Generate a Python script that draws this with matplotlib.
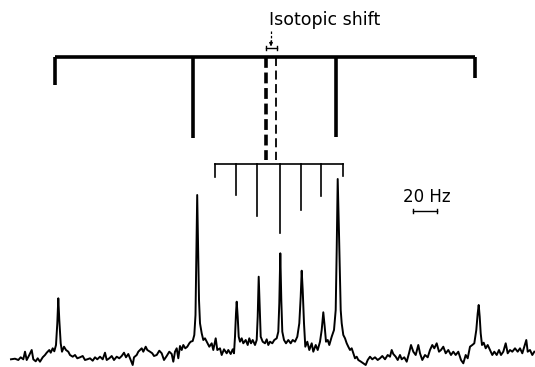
import matplotlib.pyplot as plt

# Spectrum trace (position, intensity above baseline)
trace_x = [11.0, 15.0, 18.3, 20.7, 23.3, 25.0, 26.7, 29.3, 31.7, 33.3, 35.7, 37.7, 40.0, 42.7,
           45.0, 46.7, 49.3, 50.7, 52.7, 54.3, 56.0, 57.3, 58.3, 59.3, 60.7, 62.0, 64.0, 66.0,
           68.3, 70.0, 72.7, 75.0, 77.3, 80.0, 82.7, 85.0, 87.3, 90.0, 92.7, 95.0, 97.3, 100.0,
           102.7, 105.0, 106.7, 109.3, 111.7, 114.0, 116.7, 119.3, 121.7, 124.0, 126.0, 128.3,
           130.7, 132.7, 134.0, 136.7, 138.3, 140.0, 141.7, 143.3, 145.7, 147.3, 150.0, 152.3,
           154.0, 156.7, 159.3, 161.7, 164.0, 166.7, 169.3, 171.7, 173.3, 175.0, 176.7, 178.3,
           180.0, 181.7, 183.3, 185.3, 187.3, 189.3, 190.7, 192.7, 194.3, 195.5, 196.5, 197.2,
           198.0, 199.0, 200.0, 201.7, 203.3, 205.0, 206.7, 209.3, 211.7, 213.3, 215.7, 217.3,
           220.0, 221.7, 224.0, 226.7, 228.3, 230.7, 232.7, 234.0, 235.0, 236.0, 236.7, 237.7,
           238.7, 240.0, 241.7, 243.3, 245.7, 247.7, 249.3, 251.0, 252.7, 255.0, 256.7, 257.7,
           258.7, 259.7, 260.7, 262.7, 265.0, 266.7, 268.3, 270.0, 272.3, 274.3, 276.7, 278.3,
           279.3, 280.3, 281.3, 282.3, 284.0, 286.0, 288.3, 290.7, 292.7, 295.0, 297.3, 299.3,
           300.7, 301.7, 302.7, 304.0, 305.3, 307.3, 309.3, 311.7, 313.3, 315.7, 317.7, 320.0,
           321.7, 323.3, 324.7, 326.0, 327.7, 329.3, 331.7, 334.0, 335.7, 336.7, 337.7, 339.0,
           340.7, 341.7, 343.3, 345.0, 346.7, 348.3, 350.0, 351.7, 353.3, 355.0, 356.7, 358.3,
           361.0, 363.3, 365.7, 367.7, 370.0, 372.3, 375.0, 377.7, 380.0, 382.3, 385.0, 387.7,
           390.0, 391.7, 393.3, 395.7, 397.7, 400.0, 401.7, 404.3, 406.7, 409.0, 411.0, 413.3,
           415.7, 418.3, 420.0, 422.3, 425.0, 427.7, 430.0, 432.3, 434.3, 436.7, 439.0, 441.0,
           443.3, 445.7, 448.3, 451.0, 453.3, 455.7, 458.3, 461.0, 463.3, 465.7, 467.7, 470.0,
           472.3, 474.3, 476.3, 477.7, 478.7, 479.7, 480.7, 482.0, 483.7, 485.7, 487.7, 490.0,
           492.3, 494.3, 496.7, 499.0, 501.0, 503.3, 505.7, 507.7, 510.0, 512.3, 515.0, 517.7,
           520.0, 522.3, 524.3, 526.3, 527.7, 530.0, 532.3, 534.3]
trace_y = [0.7, 1.3, 0.0, 2.7, 0.7, 8.3, 0.0, 5.0, 10.0, 0.7, -1.3, 1.7, -1.7, 2.7,
           5.0, 7.3, 10.0, 7.3, 11.7, 8.7, 15.0, 36.7, 61.7, 40.0, 16.7, 8.3, 13.3, 10.0,
           8.3, 5.0, 3.3, 5.0, 1.7, 2.7, 4.0, 0.0, 0.7, 1.7, -0.7, 2.7, 0.7, 3.3,
           0.7, 7.3, 0.0, 1.7, 4.0, 0.0, 3.3, 1.7, 4.0, 7.3, 2.7, 6.0,
           0.0, -5.0, 2.7, 5.0, 8.3, 10.0, 11.7, 8.3, 13.3, 10.0, 8.3, 6.7,
           4.0, 5.0, 9.3, 6.7, 0.0, 4.0, 8.3, 6.0, -1.7, 8.3, 11.7, 1.7,
           14.0, 10.0, 15.0, 11.7, 13.3, 16.7, 18.3, 19.0, 25.0, 45.0, 120.0, 165.0,
           120.0, 60.0, 36.7, 26.7, 20.0, 21.7, 18.3, 13.3, 16.7, 10.0, 21.7, 10.0,
           11.7, 5.0, 10.7, 6.7, 10.0, 6.0, 10.7, 6.7, 23.3, 46.7, 58.3, 43.3,
           23.3, 18.3, 21.7, 16.7, 20.0, 15.0, 21.7, 16.7, 20.0, 15.0, 20.0, 43.3,
           83.3, 53.3, 23.3, 18.3, 16.7, 20.7, 15.0, 18.3, 16.7, 20.0, 21.7, 28.3,
           56.7, 106.7, 60.0, 28.3, 20.0, 16.7, 20.0, 16.7, 20.0, 18.3, 23.3, 36.7,
           63.3, 89.3, 70.0, 36.7, 13.3, 18.3, 10.0, 16.7, 8.3, 15.0, 10.0, 18.3,
           30.0, 47.7, 33.3, 18.3, 20.0, 15.0, 23.3, 30.0, 50.0, 110.0, 181.0, 126.7,
           50.0, 36.7, 25.0, 21.7, 16.7, 13.3, 10.0, 11.7, 6.7, 1.7, 3.3, 0.0,
           -1.7, -3.3, -5.0, 0.0, 3.3, 0.7, 2.7, 0.0, 1.7, 4.0, 0.7, 5.0,
           3.3, 10.0, 6.0, 3.3, 0.0, 5.0, 0.7, 2.7, -1.7, 6.7, 15.0, 8.3,
           5.0, 15.0, 6.7, 0.0, 5.0, 2.7, 10.0, 15.0, 11.7, 16.7, 8.3, 10.0,
           13.3, 6.7, 10.0, 5.0, 8.3, 5.0, 8.3, 0.0, -3.3, 5.0, 1.7, 13.3,
           15.0, 16.7, 30.0, 46.7, 55.0, 43.3, 26.7, 15.0, 17.3, 11.7, 15.0, 10.0,
           5.0, 8.3, 5.0, 10.0, 5.0, 8.3, 16.7, 6.7, 10.0, 8.3, 11.7, 8.3,
           11.7, 6.7, 13.3, 20.0, 8.3, 10.0, 5.0, 8.3]

# Outer multiplet stick diagram (line positions, lower end of each leg)
outer_pos = [55, 193, 336, 475]
outer_end = [275, 222, 223, 282]
outer_level = 303.5

# Inner multiplet stick diagram
inner_pos = [215, 236, 257, 280, 301, 321, 343]
inner_end = [183, 165, 144, 127, 150, 164, 184]
inner_level = 196

# Centres of the two multiplets (isotopic shift)
centre_a = 266
centre_b = 276

fig = plt.figure(figsize=(5.35, 3.67), dpi=100)
ax = fig.add_axes([0, 0, 1, 1])
ax.set_xlim(0, 535)
ax.set_ylim(-7, 360)
ax.axis("off")

ax.plot(trace_x, trace_y, color="black", lw=1.4, solid_joinstyle="round")

# outer bracket
ax.plot([outer_pos[0], outer_pos[-1]], [outer_level, outer_level], color="black", lw=2.6,
        solid_capstyle="butt")
for p, e in zip(outer_pos, outer_end):
    ax.plot([p, p], [outer_level, e], color="black", lw=2.6, solid_capstyle="butt")

# inner bracket
ax.plot([inner_pos[0], inner_pos[-1]], [inner_level, inner_level], color="black", lw=1.2)
for p, e in zip(inner_pos, inner_end):
    ax.plot([p, p], [inner_level, e], color="black", lw=1.2)

# dashed centre lines
ax.plot([centre_a, centre_a], [outer_level, 200], color="black", lw=2.6, ls=(0, (3, 1.3)))
ax.plot([centre_b, centre_b], [outer_level, 200], color="black", lw=1.3, ls=(0, (5, 2.5)))

# isotopic shift marker
ax.plot([centre_a, centre_b + 1], [312, 312], color="black", lw=1.0)
ax.plot([centre_a, centre_a], [310, 314], color="black", lw=1.0)
ax.plot([centre_b + 1, centre_b + 1], [310, 314], color="black", lw=1.0)
ax.plot([271, 271], [329, 318], color="black", lw=0.9, ls=(0, (2, 1.5)))
ax.annotate("", xy=(271, 313.5), xytext=(271, 319),
            arrowprops=dict(arrowstyle="-|>", color="black", lw=0.8,
                            mutation_scale=5, shrinkA=0, shrinkB=0))
ax.text(269, 335, "Isotopic shift", fontsize=12.5, family="DejaVu Sans",
        ha="left", va="baseline", color="black")

# 20 Hz scale bar
ax.plot([413, 437], [149, 149], color="black", lw=1.0)
ax.plot([413, 413], [147, 151], color="black", lw=1.0)
ax.plot([437, 437], [147, 151], color="black", lw=1.0)
ax.text(427, 158, "20 Hz", fontsize=12, family="DejaVu Sans",
        ha="center", va="baseline", color="black")

fig.savefig("out.png", dpi=100)
